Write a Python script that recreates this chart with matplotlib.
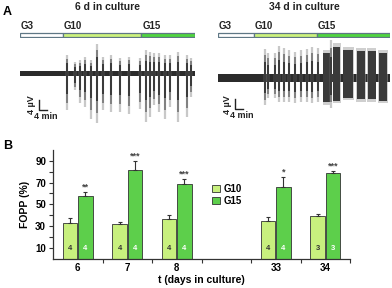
import matplotlib
matplotlib.use('Agg')
import matplotlib.pyplot as plt
import numpy as np

plt.rcParams['font.family'] = ['Liberation Sans', 'DejaVu Sans']
plt.rcParams['font.weight'] = 'bold'

W, H = 392, 288

# ---- panel A: recordings (times in min, amplitudes in uV)
# protocol segments (start, end) in min
seg_6d = [(0, 19), (19, 54), (54, 77.8)]
seg_34d = [(0, 16), (16, 44), (44, 76.4)]
seg_names = ['G3', 'G10', 'G15']
seg_colors = ['white', '#ccf27c', '#4fd53f']

# single bursts: time, upward and downward extent
burst_t_6d = [21.0, 24.4, 26.7, 28.9, 31.4, 34.4, 36.7, 40.3, 44.4, 48.6,
              53.3, 55.9, 57.8, 59.7, 61.8, 64.4, 66.7, 70.4, 74.1, 75.9]
burst_up_6d = [8.1, 5.2, 5.9, 7.4, 5.9, 13.3, 7.4, 8.1, 6.7, 7.4,
               6.7, 10.4, 9.6, 8.9, 8.9, 8.1, 8.1, 9.6, 8.1, 6.7]
burst_dn_6d = [16.3, 7.4, 13.3, 14.8, 20.0, 22.2, 16.3, 17.0, 17.0, 17.8,
               15.6, 21.5, 19.3, 14.1, 17.0, 20.0, 14.8, 21.5, 19.3, 10.4]

burst_t_34d = [20.9, 22.4, 25.3, 27.3, 29.5, 31.7, 34.2, 36.9, 39.4, 41.9, 44.3, 50.2]
burst_up_34d = [12.9, 11.1, 11.1, 14.4, 13.3, 12.6, 11.8, 12.6, 12.9, 14.1, 13.3, 17.0]
burst_dn_34d = [11.9, 8.9, 8.9, 10.4, 10.4, 10.4, 11.1, 10.4, 10.4, 11.1, 10.4, 13.3]

# long bursting episodes at 34 d: start, end, up, down
block_start_34d = [46.8, 51.2, 55.7, 61.6, 66.5, 71.3]
block_end_34d = [49.8, 54.2, 60.1, 65.3, 70.1, 75.0]
block_up_34d = [12.6, 15.6, 14.1, 13.3, 13.3, 12.6]
block_dn_34d = [11.9, 11.1, 9.6, 10.4, 10.4, 11.1]

# ---- panel B: FOPP
days = ['6', '7', '8', '33', '34']
g10 = [33, 32, 36.5, 35, 39]
g10_err = [4.5, 2, 3.5, 3, 2]
g15 = [57.5, 82, 69, 66, 79]
g15_err = [4, 8, 4, 9, 1.5]
n_cells = [4, 4, 4, 4, 3]
stars = ['**', '***', '***', '*', '***']


def px_axes(fig, x0, y0, x1, y1):
    return fig.add_axes([x0 / W, 1 - y1 / H, (x1 - x0) / W, (y1 - y0) / H])


fig = plt.figure(figsize=(W / 100, H / 100), dpi=100)
fig.patch.set_facecolor('white')

fig.text(3 / W, 1 - 12 / H, 'A', fontsize=9, fontweight='bold', va='center')
fig.text(3 / W, 1 - 146 / H, 'B', fontsize=9, fontweight='bold', va='center')


def draw_trace(x0, x1, base_y, segs, title, bt, bu, bd, noise, blocks=None):
    total = segs[-1][1]
    # protocol bar
    axb = px_axes(fig, x0, 32, x1, 38)
    for (a, b), c in zip(segs, seg_colors):
        axb.barh(0, b - a, left=a, height=0.8, color=c, edgecolor='#5f7785', linewidth=0.9)
    axb.set_xlim(0, total)
    axb.set_ylim(-0.5, 0.5)
    axb.axis('off')
    for (a, b), name in zip(segs, seg_names):
        fig.text((x0 + a / total * (x1 - x0) + 1) / W, 1 - 26 / H, name,
                 fontsize=7, fontweight='bold', va='center', color='#222222')
    fig.text((x0 + x1) / 2 / W, 1 - 7 / H, title, fontsize=7.5,
             fontweight='bold', ha='center', va='center', color='#222222')

    # trace
    axt = px_axes(fig, x0, 40, x1, 125)
    top = (base_y - 40) / 2.25
    bot = -(125 - base_y) / 2.25
    axt.set_xlim(0, total)
    axt.set_ylim(bot, top)
    axt.axis('off')
    axt.fill_between([0, total], -noise, noise, color='#2b2b2b', lw=0)
    if blocks is not None:
        for s, e, u, d in zip(*blocks):
            axt.fill_between([s - 0.3, e + 0.3], -d, u, color='#a0a0a0', alpha=0.5, lw=0)
            axt.fill_between([s, e], -d * 0.9, u * 0.9, color='#3a3a3a', lw=0)
    for t, u, d in zip(bt, bu, bd):
        axt.vlines(t, -d, u, color='#c8c8c8', lw=1.6)
        axt.vlines(t, -d * 0.8, u * 0.8, color='#7a7a7a', lw=1.3)
        axt.vlines(t, -d * 0.55, u * 0.55, color='#262626', lw=1.1)
    return axt


axl = draw_trace(20, 195, 73.5, seg_6d, '6 d in culture',
                 burst_t_6d, burst_up_6d, burst_dn_6d, 1.3)
axr = draw_trace(218, 390, 78.3, seg_34d, '34 d in culture',
                 burst_t_34d, burst_up_34d, burst_dn_34d, 1.8,
                 (block_start_34d, block_end_34d, block_up_34d, block_dn_34d))

# scale bars (4 uV / 4 min)
for ax, xs, yb in [(axl, 8.4, -16.0), (axr, 7.6, -13.7)]:
    ax.plot([xs, xs, xs + 3.5], [yb + 4.4, yb, yb], color='#222222', lw=1)
    ax.text(xs - 3.2, yb + 2.2, '4 µV', rotation=90, fontsize=6.5, fontweight='bold',
            ha='center', va='center', color='#222222')
    ax.text(xs + 2.9, yb - 3.0, '4 min', fontsize=6.5, fontweight='bold',
            ha='center', va='center', color='#222222')

# ---- panel B
ax = px_axes(fig, 53, 150, 350, 258.5)
x = np.arange(len(days), dtype=float)
x[3:] += 1
bw = 0.29
ax.bar(x - bw / 2 - 0.01, g10, bw, color='#c8f07e', edgecolor='#333333', linewidth=0.6,
       yerr=[np.zeros(len(g10)), g10_err], capsize=1.5,
       error_kw=dict(elinewidth=0.8, ecolor='#333333', capthick=0.8), label='G10')
ax.bar(x + bw / 2 + 0.01, g15, bw, color='#5dcf4b', edgecolor='#333333', linewidth=0.6,
       yerr=[np.zeros(len(g15)), g15_err], capsize=1.5,
       error_kw=dict(elinewidth=0.8, ecolor='#333333', capthick=0.8), label='G15')

for xi, v, e, s, n in zip(x, g15, g15_err, stars, n_cells):
    ax.text(xi + bw / 2 + 0.01, v + e + 0.3, s, fontsize=6.5, ha='center', va='bottom',
            color='#444444')
    ax.text(xi - bw / 2 - 0.01, 9, str(n), fontsize=5.5, fontweight='bold',
            ha='center', va='center', color='#333333')
    ax.text(xi + bw / 2 + 0.01, 9, str(n), fontsize=5.5, fontweight='bold',
            ha='center', va='center', color='white')

ax.set_xlim(-0.5, 5.5)
ax.set_ylim(0, 100)
ax.set_xticks(x)
ax.set_xticklabels(days)
ax.set_xticks(np.arange(0.5, 6, 1), minor=True)
ax.tick_params(axis='x', which='major', length=0, pad=3, labelsize=7)
ax.tick_params(axis='x', which='minor', length=3, width=0.8, color='#333333')
ax.set_yticks(np.arange(10, 100, 10))
ax.set_yticklabels(['10', '', '30', '', '50', '', '70', '', '90'])
ax.tick_params(axis='y', length=3, width=0.8, labelsize=7, pad=2, color='#333333')
for lab in ax.get_xticklabels() + ax.get_yticklabels():
    lab.set_fontweight('bold')
for sp in ['top', 'right']:
    ax.spines[sp].set_visible(False)
for sp in ['left', 'bottom']:
    ax.spines[sp].set_color('#333333')
    ax.spines[sp].set_linewidth(0.9)
ax.set_ylabel('FOPP (%)', fontsize=7.5, fontweight='bold', labelpad=4)
ax.set_xlabel('t (days in culture)', fontsize=7.5, fontweight='bold', labelpad=2)
ax.legend(loc='upper left', bbox_to_anchor=(0.52, 0.73), frameon=False, fontsize=7,
          handlelength=0.8, handleheight=0.8, handletextpad=0.4, borderpad=0,
          labelspacing=0.2, prop={'weight': 'bold', 'size': 7})

fig.savefig('out.png', dpi=100, facecolor='white')
